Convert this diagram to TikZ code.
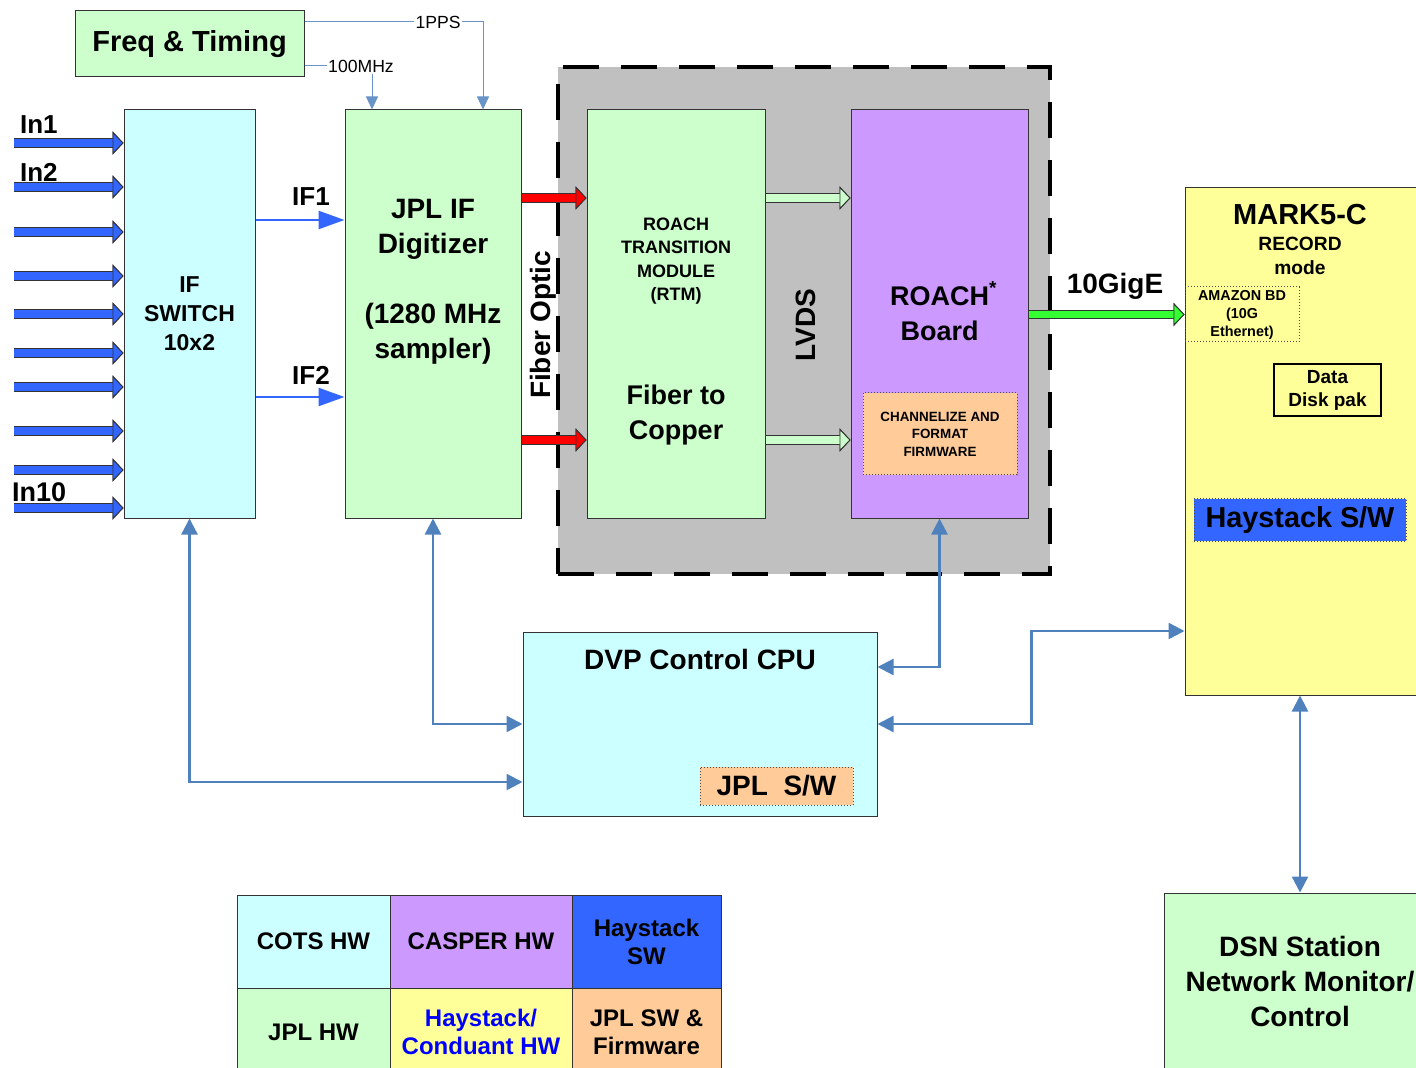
\documentclass[tikz,border=0pt]{standalone}
\usepackage{fontspec}
\setmainfont{Liberation Sans}
\usetikzlibrary{arrows.meta, positioning, calc}

\definecolor{cotscyan}{HTML}{CCFFFF}
\definecolor{jplgreen}{HTML}{CCFFCC}
\definecolor{casperpurple}{HTML}{CC99FF}
\definecolor{haysblue}{HTML}{3366FF}
\definecolor{haysyellow}{HTML}{FFFF99}
\definecolor{jplorange}{HTML}{FFCC99}
\definecolor{ctrlblue}{HTML}{4F81BD}
\definecolor{rackgray}{HTML}{C0C0C0}
\definecolor{gigegreen}{HTML}{33FF33}

\newcommand{\fsz}[2]{\fontsize{#1}{#2}\selectfont}

\begin{document}
\begin{tikzpicture}[
  x=0.5pt, y=-0.5pt,
  font=\bfseries,
  box/.style={draw=black!80, line width=0.5pt, inner sep=0pt, align=center},
  dotbox/.style={draw=black!70, line width=0.5pt, densely dotted, inner sep=0pt, align=center},
  cell/.style={box, minimum width=#1, minimum height=46.5pt, font=\bfseries\fsz{12}{14}},
  fat/.style={draw=#1, line width=3.8pt,
    -{Triangle[length=5.5pt, width=11.5pt, fill=#1, color=black!80, line width=0.45pt]},
    preaction={draw=black!80, line width=4.7pt, -{Triangle[length=5.5pt, width=11.5pt]}}},
  ifarrow/.style={draw=haysblue, line width=1.3pt, -{Triangle[length=13pt, width=9pt]}},
  ctrl/.style={draw=ctrlblue, line width=1.2pt,
    {Triangle[length=8pt, width=8pt]}-{Triangle[length=8pt, width=8pt]}},
  timing/.style={draw=ctrlblue!85, line width=0.5pt},
  tag/.style={font=\mdseries\fsz{8.8}{10}, fill=white, inner sep=0.5pt},
  big/.style={font=\bfseries\fsz{14}{17.5}, align=center}
]
\useasboundingbox (0,0) rectangle (1416,1068);
\clip (0,0) rectangle (1416,1068);

% CASPER rack behind the boards
\node[fill=rackgray, draw=black, line width=2pt, dash pattern=on 18pt off 11pt,
  minimum width=246pt, minimum height=253.5pt, inner sep=0pt] (rack) at (804,320.5) {};

% front end
\node[box, fill=jplgreen, minimum width=114.5pt, minimum height=33pt,
  font=\bfseries\fsz{14.5}{17}] (freq) at (189.5,44) {Freq \& Timing};
\node[box, fill=cotscyan, minimum width=65.5pt, minimum height=204pt,
  font=\bfseries\fsz{11.5}{14.5}] (ifsw) at (189.5,314) {IF\\SWITCH\\10x2};
\node[box, fill=jplgreen, minimum width=88pt, minimum height=204pt] (jplif) at (433,314) {};
\node[big] (jpliftext) at (433,282) {JPL IF\\Digitizer\\[17.5pt](1280 MHz\\sampler)};

% boards in the rack
\node[box, fill=jplgreen, minimum width=89pt, minimum height=204pt] (rtm) at (676,314) {};
\node[align=center, font=\bfseries\fsz{9}{11.75}] (rtmtext) at (676,261)
  {ROACH\\TRANSITION\\MODULE\\(RTM)};
\node[big, font=\bfseries\fsz{13.5}{17.5}] (f2c) at (676,415) {Fiber to\\Copper};
\node[box, fill=casperpurple, minimum width=88.5pt, minimum height=204pt] (roach) at (939.5,314) {};
\node[align=center, font=\bfseries\fsz{13.5}{17.5}] (roachtext) at (939.5,311)
  {ROACH\rlap{\textsuperscript{*}}\\Board};
\node[dotbox, fill=jplorange, minimum width=77pt, minimum height=41pt,
  font=\bfseries\fsz{6.7}{8.75}] (chan) at (940,434) {CHANNELIZE AND\\FORMAT\\FIRMWARE};
\node[rotate=90, font=\bfseries\fsz{14}{17}] (fiber) at (543,325) {Fiber Optic};
\node[rotate=90, font=\bfseries\fsz{14}{17}] (lvds) at (806,325) {LVDS};

% recorder
\node[box, fill=haysyellow, minimum width=120pt, minimum height=253.5pt] (mark5) at (1305,441.5) {};
\node[font=\bfseries\fsz{14.5}{17}] (m5title) at (1300,215) {MARK5-C};
\node[align=center, font=\bfseries\fsz{9.6}{12}] (m5mode) at (1300,256) {RECORD\\mode};
\node[dotbox, minimum width=57pt, minimum height=27.5pt,
  font=\bfseries\fsz{7.2}{9}] (amazon) at (1242,314.5) {AMAZON BD\\(10G\\Ethernet)};
\node[box, draw=black, line width=1.2pt, minimum width=53.5pt, minimum height=26pt,
  font=\bfseries\fsz{9.5}{11.5}] (disk) at (1327.5,390) {Data\\Disk pak};
\node[dotbox, fill=haysblue, minimum width=106pt, minimum height=21pt,
  font=\bfseries\fsz{14.4}{17}] (haysw) at (1300,520) {Haystack S/W};

% control
\node[box, fill=cotscyan, minimum width=177pt, minimum height=92pt] (dvp) at (700,724) {};
\node[font=\bfseries\fsz{14}{17}] (dvptitle) at (700,659) {DVP Control CPU};
\node[dotbox, fill=jplorange, minimum width=76.5pt, minimum height=19pt,
  font=\bfseries\fsz{14}{17}] (jplsw) at (776.5,786) {JPL~~S/W};
\node[box, fill=jplgreen, minimum width=136pt, minimum height=88.5pt,
  font=\bfseries\fsz{14}{17.5}] (dsn) at (1300,981.5) {DSN Station\\Network Monitor/\\Control};

% legend
\node[cell=76.5pt, fill=cotscyan] (lcots) at (313.5,941.5) {COTS HW};
\node[cell=91pt, fill=casperpurple] (lcasper) at (481,941.5) {CASPER HW};
\node[cell=74.5pt, fill=haysblue] (lhaysw) at (646.5,941.5) {Haystack\\SW};
\node[cell=76.5pt, minimum height=44pt, fill=jplgreen] (ljplhw) at (313.5,1032) {JPL HW};
\node[cell=91pt, minimum height=44pt, fill=haysyellow, text=blue] (lhayhw) at (481,1032) {Haystack/\\Conduant HW};
\node[cell=74.5pt, minimum height=44pt, fill=jplorange] (ljplsw) at (646.5,1032) {JPL SW \&\\Firmware};

% labels
\node[anchor=west, font=\bfseries\fsz{13}{15}] (in1lab) at (13,125) {In1};
\node[anchor=west, font=\bfseries\fsz{13}{15}] (in2lab) at (13,172) {In2};
\node[anchor=west, font=\bfseries\fsz{13.5}{15}] (in10lab) at (5,492) {In10};
\node[font=\bfseries\fsz{13}{15}] (if1lab) at (311,197) {IF1};
\node[font=\bfseries\fsz{13}{15}] (if2lab) at (311,375) {IF2};
\node[font=\bfseries\fsz{14}{17}] (gigelab) at (1115,286) {10GigE};
\node[tag] (pps) at (438,22) {1PPS};
\node[tag] (mhz) at (361,66) {100MHz};

% timing
\draw[timing] (freq.east |- pps) -- (pps.west);
\draw[timing, -{Triangle[length=6.5pt, width=6pt]}] (pps.east) -| (jplif.north -| 483,0);
\draw[timing] (freq.east |- mhz) -- (mhz.west);
\draw[timing, -{Triangle[length=6.5pt, width=6pt]}] (mhz.south -| 372,0) -- (jplif.north -| 372,0);

% signal path
\foreach \y [count=\i] in {143,187,232,276,314,353,387,431,470,508} {
  \coordinate (in\i) at (14,\y);
  \draw[fat=haysblue] (in\i) -- (ifsw.west |- in\i);
}
\draw[ifarrow] (ifsw.east |- 0,220) -- (jplif.west |- 0,220);
\draw[ifarrow] (ifsw.east |- 0,397) -- (jplif.west |- 0,397);
\foreach \y in {198,440} {
  \draw[fat=red] (jplif.east |- 0,\y) -- (rtm.west |- 0,\y);
  \draw[fat=jplgreen] (rtm.east |- 0,\y) -- (roach.west |- 0,\y);
}
\draw[fat=gigegreen] (roach.east |- amazon) -- (amazon.west);

% control links
\draw[ctrl] (ifsw.south) |- (dvp.west |- 0,782);
\draw[ctrl] (jplif.south) |- (dvp.west);
\draw[ctrl] (roach.south) |- (dvp.east |- 0,667);
\draw[ctrl] (dvp.east) -- ++(154,0) |- (mark5.west |- 0,631);
\draw[ctrl] (mark5.south -| dsn.north) -- (dsn.north);

\end{tikzpicture}
\end{document}
